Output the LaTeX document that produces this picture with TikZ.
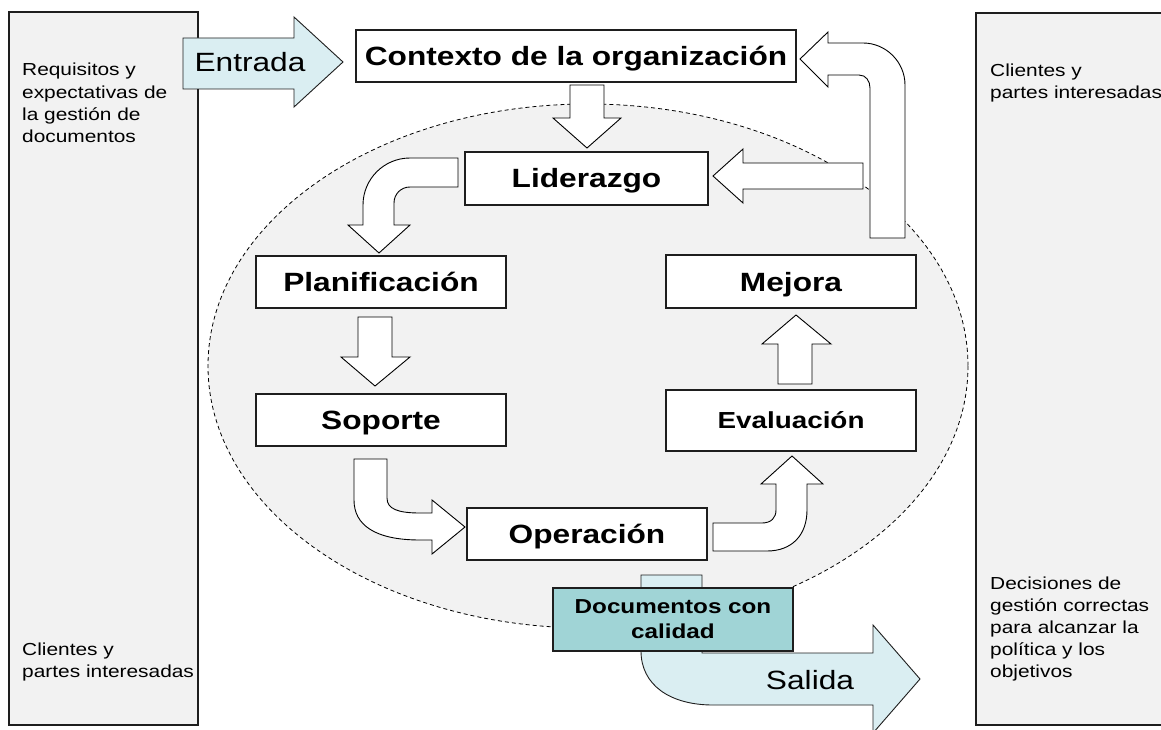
\documentclass[tikz,border=0pt]{standalone}
\usepackage{fontspec}
\setmainfont{Liberation Sans}[FakeStretch=1.2]
\definecolor{panelgray}{RGB}{242,242,242}
\definecolor{cyanlight}{RGB}{218,238,242}
\definecolor{tealbox}{RGB}{160,212,214}
\definecolor{edge}{RGB}{30,30,30}
\begin{document}
\begin{tikzpicture}[x=1pt,y=-1pt,
  panel/.style={draw=edge,fill=panelgray,line width=1.2pt,inner sep=0pt,outer sep=0pt,anchor=north west},
  ptext/.style={anchor=base west,inner sep=0pt,font=\fontsize{17.4}{22}\selectfont},
  box/.style={draw=edge,fill=white,line width=1.2pt,inner sep=0pt,outer sep=0pt,
    font=\bfseries\fontsize{26.4}{30}\selectfont,text height=19pt,text depth=0pt},
  blockarrow/.style={draw=black,fill=white,line width=0.9pt,line join=miter},
  cyanarrow/.style={draw=edge,fill=cyanlight,line width=0.9pt,line join=miter},
  bigtext/.style={inner sep=0pt,font=\fontsize{26.4}{30}\selectfont,text height=19pt,text depth=0pt},
  cycleline/.style={draw=black,fill=panelgray,line width=0.8pt,dash pattern=on 4pt off 3pt}]
\useasboundingbox (0,0) rectangle (1161,730);

% side panels
\node[panel,minimum width=189pt,minimum height=713pt] (lpanel) at (9,12) {};
\node[panel,minimum width=210pt,minimum height=712pt] (rpanel) at (976,13) {};
\node[ptext] (l1) at (22,76) {Requisitos y};
\node[ptext] (l2) at (22,98.5) {expectativas de};
\node[ptext] (l3) at (22,121) {la gestión de};
\node[ptext] (l4) at (22,143) {documentos};
\node[ptext] (l5) at (22,655) {Clientes y};
\node[ptext] (l6) at (22,677) {partes interesadas};
\node[ptext] (r1) at (990,77) {Clientes y};
\node[ptext] (r2) at (990,99) {partes interesadas};
\node[ptext] (r3) at (990,589) {Decisiones de};
\node[ptext] (r4) at (990,611) {gestión correctas};
\node[ptext] (r5) at (990,633) {para alcanzar la};
\node[ptext] (r6) at (990,655) {política y los};
\node[ptext] (r7) at (990,677) {objetivos};

% dashed cycle area
\path[cycleline] (588,366) ellipse [x radius=380, y radius=262];

% Entrada arrow
\path[cyanarrow] (183,38) -- (294,38) -- (294,17) -- (343,62) -- (294,107) -- (294,89) -- (183,89) -- cycle;
\node[bigtext] (entrada) at (250,62.5) {Entrada};

% process boxes
\node[box,minimum width=440pt,minimum height=52pt] (ctx) at (576,56) {Contexto de la organización};
\node[box,minimum width=243pt,minimum height=53pt] (lid) at (586.5,178.5) {Liderazgo};
\node[box,minimum width=250pt,minimum height=52pt] (plan) at (381,282) {Planificación};
\node[box,minimum width=250pt,minimum height=52pt] (sop) at (381,420) {Soporte};
\node[box,minimum width=240pt,minimum height=52pt] (oper) at (587,534) {Operación};
\node[box,minimum width=250pt,minimum height=53pt] (mej) at (791,281.5) {Mejora};
\node[box,minimum width=250pt,minimum height=61pt,font=\bfseries\fontsize{23.2}{27}\selectfont,text height=16.7pt] (eval) at (791,420.5) {Evaluación};

% block arrows
% Contexto -> Liderazgo
\path[blockarrow] (570,85) -- (604,85) -- (604,118) -- (621,118) -- (587,148) -- (553,118) -- (570,118) -- cycle;
% return arrow to Contexto
\path[blockarrow] (870,238) -- (870,88) .. controls (870,81) and (866,75) .. (859,75) -- (828,75) -- (828,87)
  -- (800,59) -- (828,32) -- (828,43) -- (863,43) .. controls (886,43) and (905,62) .. (905,85) -- (905,238) -- cycle;
% arrow into Liderazgo
\path[blockarrow] (863,163) -- (743,163) -- (743,149) -- (713,176) -- (743,203) -- (743,189) -- (863,189) -- cycle;
% Liderazgo -> Planificacion
\path[blockarrow] (458,158) -- (410,158) .. controls (384,158) and (363,179) .. (363,205) -- (363,225) -- (348,225)
  -- (379,253) -- (410,225) -- (394,225) -- (394,203) .. controls (394,194) and (401,187) .. (410,187) -- (458,187) -- cycle;
% Planificacion -> Soporte
\path[blockarrow] (358,317) -- (392,317) -- (392,357) -- (410,357) -- (375,386) -- (341,357) -- (358,357) -- cycle;
% Soporte -> Operacion
\path[blockarrow] (354,459) -- (387,459) -- (387,498) .. controls (387,509) and (398,513) .. (420,513) -- (432,513)
  -- (432,500) -- (465,527) -- (432,554) -- (432,540) -- (420,540) .. controls (375,540) and (354,525) .. (354,500) -- cycle;
% Operacion -> Evaluacion
\path[blockarrow] (713,523) -- (762,523) .. controls (771,523) and (776,518) .. (776,510) -- (776,484) -- (761,484)
  -- (792,456) -- (823,484) -- (807,484) -- (807,510) .. controls (807,535) and (792,551) .. (767,551) -- (713,551) -- cycle;
% Evaluacion -> Mejora
\path[blockarrow] (778,384) -- (778,344) -- (762,344) -- (796,315) -- (831,344) -- (812,344) -- (812,384) -- cycle;

% Salida arrow
\path[cyanarrow] (641,575) -- (702,575) -- (702,653) -- (873,653) -- (873,625) -- (920,679) -- (873,733) -- (873,705)
  -- (713,705) .. controls (670,705) and (641,685) .. (641,651) -- cycle;
\node[bigtext] (salida) at (810,680) {Salida};

% output box
\node[draw=edge,fill=tealbox,line width=1.2pt,inner sep=0pt,minimum width=240pt,minimum height=63pt,
  align=center,font=\bfseries\fontsize{20.2}{25}\selectfont] (docs) at (673,619.5) {Documentos con\\calidad};
\end{tikzpicture}
\end{document}
